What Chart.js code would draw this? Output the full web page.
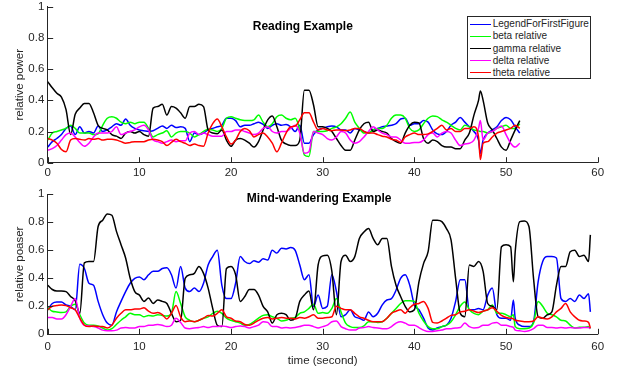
<!DOCTYPE html>
<html><head><meta charset="utf-8">
<script src="https://cdn.jsdelivr.net/npm/chart.js@4.4.1/dist/chart.umd.min.js"></script>
<style>
html,body{margin:0;padding:0;background:#fff;}
#wrap{position:relative;width:623px;height:375px;overflow:hidden;font-family:"Liberation Sans",Arial,Helvetica,sans-serif;}
#wrap canvas{position:absolute;left:0;}
.ttl{position:absolute;font-weight:bold;font-size:12px;color:#000;transform:translate(-50%,-50%);white-space:nowrap;}
#legend{position:absolute;left:466.5px;top:15.5px;width:122.5px;height:61.8px;border:1px solid #262626;background:#fff;font-size:10px;color:#262626;}
.row{position:absolute;left:0;height:12px;line-height:12px;white-space:nowrap;}
.sw{position:absolute;left:2.5px;top:5.5px;width:20.7px;height:0;border-top:1.5px solid;}
.lt{position:absolute;left:25.2px;top:0;}
#err{position:absolute;left:60px;top:100px;color:red;font-size:12px;}
</style></head>
<body>
<div id="wrap">
  <canvas id="c1" width="623" height="185" style="top:0;width:623px;height:185px"></canvas>
  <canvas id="c2" width="623" height="190" style="top:185px;width:623px;height:190px"></canvas>
  <div class="ttl" style="left:302.8px;top:25.7px">Reading Example</div>
  <div class="ttl" style="left:319.2px;top:198.3px">Mind-wandering Example</div>
  <div id="legend"></div>
  <div id="err"></div>
</div>
<script>
// ---------- DATA ----------
const seriesNames = ["LegendForFirstFigure","beta relative","gamma relative","delta relative","theta relative"];
const seriesColors = ["#0000ff","#00ff00","#000000","#ff00ff","#ff0000"];
const xTicks = [0,10,20,30,40,50,60];
const yTicks = [0,0.2,0.4,0.6,0.8,1];

// Reading Example (top) - time in seconds
const readTime = [0,0.5,1,1.5,2,2.5,3,3.5,4,4.5,5,5.5,6,6.5,7,7.5,8,8.5,9,9.5,10,10.5,11,11.5,12,12.5,13,13.5,14,14.5,15,15.5,16,16.5,17,17.5,18,18.5,19,19.5,20,20.5,21,21.5,22,22.5,23,23.5,24,24.5,25,25.5,26,26.5,27,27.5,28,28.5,29,29.5,30,30.5,31,31.5,32,32.5,33,33.5,34,34.5,35,35.5,36,36.5,37,37.5,38,38.5,39,39.5,40,40.5,41,41.5,42,42.5,43,43.5,44,44.5,45,45.5,46,46.5,47,47.2,47.5,48,48.5,49,49.5,50,50.5,51,51.5];
const readBlue = [0.1,0.135,0.155,0.18,0.22,0.235,0.18,0.23,0.19,0.2,
 0.19,0.235,0.2,0.21,0.23,0.25,0.24,0.28,0.24,0.22,
 0.21,0.205,0.2,0.205,0.22,0.235,0.22,0.24,0.225,0.23,
 0.22,0.135,0.19,0.18,0.19,0.21,0.22,0.23,0.24,0.285,
 0.285,0.27,0.23,0.24,0.24,0.25,0.26,0.245,0.22,0.24,
 0.25,0.24,0.245,0.23,0.2,0.24,0.125,0.125,0.18,0.21,
 0.22,0.23,0.235,0.23,0.21,0.21,0.19,0.22,0.21,0.2,
 0.19,0.21,0.22,0.23,0.235,0.24,0.25,0.28,0.285,0.24,
 0.25,0.25,0.27,0.26,0.21,0.185,0.18,0.2,0.24,0.26,
 0.29,0.26,0.23,0.2,0.145,0.06,
 0.145,0.19,0.21,0.23,0.27,0.29,0.275,0.23,0.19];
const readBeta = [0.145,0.19,0.2,0.21,0.22,0.24,0.22,0.19,0.19,0.19,
 0.18,0.185,0.24,0.285,0.295,0.285,0.26,0.25,0.26,0.25,
 0.26,0.26,0.22,0.165,0.18,0.19,0.205,0.165,0.19,0.2,
 0.2,0.19,0.165,0.18,0.2,0.215,0.21,0.2,0.22,0.285,
 0.295,0.285,0.275,0.27,0.27,0.275,0.305,0.26,0.23,0.25,
 0.295,0.305,0.285,0.275,0.285,0.21,0.05,0.04,0.2,0.2,
 0.2,0.205,0.22,0.23,0.25,0.285,0.325,0.26,0.22,0.19,
 0.19,0.21,0.22,0.22,0.24,0.285,0.305,0.305,0.285,0.22,
 0.2,0.21,0.25,0.285,0.3,0.295,0.275,0.26,0.24,0.22,
 0.21,0.24,0.23,0.21,0.205,0.2,
 0.2,0.19,0.2,0.22,0.23,0.24,0.22,0.22,0.25];
const readGamma = [0.52,0.48,0.445,0.42,0.34,0.18,0.31,0.35,0.38,0.38,
 0.32,0.24,0.22,0.21,0.18,0.17,0.155,0.19,0.2,0.19,
 0.2,0.18,0.17,0.35,0.36,0.375,0.305,0.36,0.35,0.32,
 0.285,0.36,0.36,0.375,0.36,0.21,0.19,0.185,0.21,0.145,
 0.105,0.145,0.155,0.145,0.125,0.1,0.135,0.21,0.275,0.3,
 0.23,0.145,0.12,0.11,0.11,0.145,0.465,0.465,0.37,0.23,
 0.23,0.22,0.2,0.155,0.11,0.08,0.08,0.145,0.21,0.25,
 0.26,0.2,0.21,0.2,0.19,0.155,0.135,0.125,0.19,0.24,
 0.26,0.255,0.155,0.125,0.145,0.135,0.11,0.1,0.1,0.09,
 0.09,0.145,0.19,0.305,0.4,0.46,
 0.4,0.255,0.21,0.155,0.1,0.08,0.145,0.21,0.27];
const readDelta = [0.08,0.09,0.11,0.145,0.18,0.19,0.165,0.13,0.105,0.125,
 0.165,0.19,0.19,0.19,0.2,0.23,0.18,0.19,0.2,0.21,
 0.23,0.24,0.21,0.145,0.135,0.125,0.135,0.145,0.135,0.14,
 0.14,0.19,0.2,0.18,0.19,0.18,0.17,0.17,0.17,0.2,
 0.2,0.21,0.21,0.2,0.19,0.18,0.19,0.22,0.23,0.2,
 0.19,0.2,0.2,0.22,0.24,0.19,0.06,0.07,0.2,0.19,
 0.18,0.155,0.145,0.165,0.2,0.19,0.145,0.125,0.135,0.165,
 0.2,0.23,0.21,0.19,0.18,0.165,0.165,0.145,0.125,0.125,
 0.13,0.13,0.145,0.18,0.19,0.165,0.19,0.2,0.19,0.145,
 0.11,0.12,0.125,0.145,0.22,0.27,
 0.145,0.19,0.2,0.22,0.235,0.18,0.125,0.1,0.125];
const readTheta = [0.155,0.145,0.125,0.085,0.07,0.145,0.155,0.15,0.145,0.155,
 0.15,0.155,0.145,0.15,0.15,0.145,0.135,0.125,0.13,0.135,
 0.135,0.135,0.145,0.15,0.145,0.135,0.11,0.13,0.15,0.135,
 0.125,0.11,0.12,0.11,0.105,0.19,0.25,0.28,0.23,0.165,
 0.12,0.145,0.2,0.22,0.205,0.165,0.18,0.19,0.165,0.125,
 0.07,0.125,0.19,0.23,0.235,0.275,0.32,0.32,0.26,0.21,
 0.22,0.21,0.205,0.21,0.21,0.205,0.21,0.22,0.22,0.2,
 0.19,0.19,0.18,0.17,0.165,0.15,0.145,0.13,0.165,0.18,
 0.19,0.18,0.18,0.185,0.2,0.22,0.24,0.21,0.22,0.2,
 0.2,0.22,0.22,0.23,0.165,0.02,
 0.125,0.135,0.165,0.19,0.2,0.21,0.22,0.24,0.22];

// Mind-wandering Example (bottom)
const mindTime = [0,0.5,1,1.5,2,2.5,3,3.5,4,4.5,5,5.5,6,6.5,7,7.5,8,8.5,9,9.5,10,10.5,11,11.5,12,12.5,13,13.5,14,14.5,15,15.5,16,16.5,17,17.5,18,18.5,19,19.5,20,20.5,21,21.5,22,22.5,23,23.5,24,24.5,25,25.5,26,26.5,27,27.5,28,28.5,29,29.5,30,30.5,31,31.5,32,32.5,33,33.5,34,34.5,35,35.5,36,36.5,37,37.5,38,38.5,39,39.5,40,40.5,41,41.5,42,42.5,43,43.5,44,44.5,45,45.5,46,46.5,47,47.5,48,48.5,49,49.5,50,50.5,50.8,51,51.5,52,52.5,53,53.5,54,54.5,55,55.5,56,56.5,57,57.5,58,58.5,59,59.2];
const mindBlue = [0.175,0.22,0.23,0.23,0.21,0.2,0.175,0.5,0.47,0.365,
 0.35,0.235,0.14,0.08,0.065,0.16,0.235,0.305,0.365,0.4,
 0.41,0.39,0.425,0.45,0.45,0.47,0.475,0.425,0.33,0.485,
 0.33,0.305,0.33,0.305,0.365,0.495,0.555,0.6,0.35,0.255,
 0.255,0.365,0.555,0.52,0.505,0.525,0.515,0.54,0.53,0.6,
 0.58,0.615,0.61,0.62,0.6,0.495,0.39,0.425,0.2,0.28,
 0.185,0.2,0.425,0.305,0.125,0.14,0.175,0.125,0.115,0.1,
 0.16,0.125,0.15,0.21,0.245,0.255,0.315,0.4,0.425,0.35,
 0.21,0.175,0.115,0.045,0.03,0.045,0.055,0.065,0.115,0.235,
 0.39,0.39,0.175,0.175,0.185,0.175,0.28,0.33,0.14,0.115,
 0.115,0.1,0.245,0.115,0.065,0.055,0.055,0.09,0.375,0.52,
 0.555,0.555,0.545,0.255,0.235,0.255,0.235,0.28,0.255,0.29,
 0.16];
const mindBeta = [0.19,0.165,0.16,0.155,0.16,0.2,0.215,0.14,0.08,0.065,
 0.065,0.06,0.045,0.03,0.04,0.07,0.1,0.125,0.15,0.14,
 0.14,0.125,0.135,0.13,0.14,0.135,0.13,0.15,0.305,0.22,
 0.125,0.1,0.09,0.1,0.115,0.125,0.15,0.165,0.15,0.115,
 0.1,0.09,0.08,0.065,0.07,0.09,0.115,0.135,0.14,0.125,
 0.115,0.095,0.1,0.115,0.12,0.15,0.16,0.185,0.215,0.15,
 0.155,0.15,0.185,0.255,0.16,0.08,0.055,0.048,0.048,0.06,
 0.09,0.09,0.085,0.09,0.115,0.15,0.185,0.22,0.24,0.24,
 0.235,0.15,0.095,0.055,0.04,0.04,0.055,0.065,0.09,0.14,
 0.2,0.23,0.175,0.15,0.14,0.165,0.175,0.21,0.15,0.15,
 0.14,0.125,0.14,0.055,0.04,0.04,0.045,0.08,0.235,0.2,
 0.15,0.14,0.125,0.1,0.095,0.065,0.045,0.05,0.05,0.055,
 0.04];
const mindGamma = [0.35,0.32,0.31,0.31,0.305,0.27,0.24,0.15,0.51,0.52,
 0.52,0.77,0.815,0.86,0.85,0.735,0.64,0.545,0.4,0.305,
 0.28,0.235,0.26,0.22,0.245,0.235,0.22,0.15,0.09,0.1,
 0.4,0.425,0.435,0.485,0.435,0.33,0.185,0.065,0.055,0.47,
 0.485,0.425,0.235,0.27,0.32,0.32,0.28,0.2,0.16,0.08,
 0.14,0.15,0.14,0.1,0.115,0.235,0.28,0.31,0.175,0.495,
 0.56,0.565,0.45,0.14,0.52,0.565,0.52,0.555,0.685,0.73,
 0.755,0.685,0.64,0.685,0.685,0.485,0.35,0.27,0.2,0.16,
 0.175,0.375,0.505,0.59,0.815,0.815,0.805,0.755,0.675,0.4,
 0.15,0.125,0.495,0.485,0.52,0.45,0.22,0.2,0.175,0.625,
 0.64,0.625,0.375,0.59,0.805,0.81,0.77,0.4,0.125,0.115,
 0.14,0.16,0.35,0.485,0.485,0.59,0.6,0.555,0.565,0.52,
 0.71];
const mindDelta = [0.12,0.12,0.11,0.11,0.14,0.2,0.255,0.115,0.065,0.06,
 0.055,0.045,0.03,0.025,0.025,0.03,0.045,0.048,0.045,0.045,
 0.055,0.055,0.065,0.065,0.07,0.065,0.055,0.065,0.115,0.085,
 0.045,0.04,0.045,0.048,0.055,0.048,0.055,0.055,0.06,0.055,
 0.048,0.055,0.06,0.055,0.045,0.055,0.065,0.09,0.085,0.055,
 0.055,0.045,0.048,0.045,0.048,0.055,0.065,0.065,0.055,0.045,
 0.055,0.065,0.09,0.095,0.055,0.04,0.03,0.03,0.045,0.048,
 0.055,0.048,0.045,0.04,0.04,0.055,0.08,0.09,0.08,0.065,
 0.065,0.048,0.03,0.02,0.02,0.025,0.03,0.04,0.04,0.045,
 0.048,0.08,0.055,0.045,0.048,0.065,0.065,0.08,0.085,0.065,
 0.065,0.055,0.05,0.03,0.025,0.02,0.025,0.04,0.065,0.065,
 0.048,0.048,0.045,0.048,0.045,0.048,0.045,0.045,0.048,0.048,
 0.04];
const mindTheta = [0.175,0.2,0.205,0.21,0.205,0.19,0.175,0.115,0.065,0.055,
 0.06,0.055,0.055,0.045,0.065,0.115,0.15,0.175,0.175,0.18,
 0.18,0.19,0.165,0.15,0.155,0.14,0.11,0.15,0.205,0.125,
 0.09,0.095,0.09,0.1,0.115,0.135,0.13,0.15,0.175,0.125,
 0.115,0.095,0.09,0.07,0.065,0.08,0.1,0.115,0.12,0.11,
 0.115,0.12,0.115,0.115,0.11,0.12,0.115,0.125,0.14,0.115,
 0.115,0.12,0.125,0.2,0.185,0.175,0.175,0.15,0.125,0.115,
 0.1,0.09,0.09,0.09,0.115,0.15,0.165,0.175,0.15,0.19,
 0.215,0.22,0.235,0.185,0.085,0.08,0.095,0.115,0.135,0.14,
 0.16,0.165,0.175,0.165,0.155,0.165,0.175,0.19,0.165,0.135,
 0.12,0.115,0.11,0.1,0.095,0.09,0.09,0.095,0.125,0.115,
 0.11,0.125,0.16,0.185,0.22,0.16,0.125,0.1,0.095,0.085,
 0.045];

// ---------- RENDER ----------
const FONT = '"Liberation Sans", Arial, Helvetica, sans-serif';
const AX = '#262626';
const errs = [];

const inwardTicks = {
  id: 'inwardTicks',
  afterDraw(chart) {
    const {ctx, chartArea, scales} = chart;
    const x = scales.x, y = scales.y;
    ctx.save();
    ctx.strokeStyle = AX; ctx.lineWidth = 1;
    ctx.beginPath();
    x.ticks.forEach(t => { const px = Math.round(x.getPixelForValue(t.value)) + 0.5; ctx.moveTo(px, chartArea.bottom); ctx.lineTo(px, chartArea.bottom - 5.5); });
    y.ticks.forEach(t => { const py = Math.round(y.getPixelForValue(t.value)) + 0.5; ctx.moveTo(chartArea.left, py); ctx.lineTo(chartArea.left + 5.5, py); });
    ctx.stroke();
    ctx.restore();
  }
};

function makeChart(id, name, times, values, cfg) {
  // values in order: blue, beta, gamma, delta, theta ; draw theta on top
  const datasets = [];
  for (let k = values.length - 1; k >= 0; k--) {
    if (values[k].length !== times.length) errs.push(name + ' series ' + k + ': ' + values[k].length + ' vs ' + times.length);
    datasets.push({
      label: seriesNames[k],
      data: times.map((t, i) => ({x: t, y: values[k][i]})),
      borderColor: seriesColors[k],
      borderWidth: 1.5,
      pointRadius: 0,
      fill: false,
      cubicInterpolationMode: 'monotone'
    });
  }
  return new Chart(document.getElementById(id), {
    type: 'line',
    data: {datasets},
    plugins: [inwardTicks],
    options: {
      responsive: false,
      animation: false,
      devicePixelRatio: 1,
      layout: {padding: {top: cfg.top, right: 25.3, bottom: 0, left: 0}},
      plugins: {legend: {display: false}, tooltip: {enabled: false}, title: {display: false}},
      scales: {
        x: {
          type: 'linear', min: 0, max: 60,
          afterBuildTicks: s => { s.ticks = xTicks.map(v => ({value: v})); },
          afterFit: s => { s.height = cfg.xHeight; s.paddingLeft = 0; s.paddingRight = 0; },
          grid: {display: false, drawTicks: false},
          border: {display: true, color: AX, width: 1},
          ticks: {color: AX, font: {family: FONT, size: 11.5}, padding: cfg.xPad, maxRotation: 0, callback: v => String(v)},
          title: cfg.xTitle ? {display: true, text: cfg.xTitle, color: AX, font: {family: FONT, size: 11.5}, padding: {top: 0, bottom: cfg.xTitlePad}} : {display: false}
        },
        y: {
          type: 'linear', min: 0, max: 1,
          afterBuildTicks: s => { s.ticks = yTicks.map(v => ({value: v})); },
          afterFit: s => { s.width = 47.7; s.paddingTop = 0; s.paddingBottom = 0; },
          grid: {display: false, drawTicks: false},
          border: {display: true, color: AX, width: 1},
          ticks: {color: AX, font: {family: FONT, size: 11.5}, padding: 3.4, callback: v => String(Math.round(v * 10) / 10)},
          title: {display: true, text: cfg.yTitle, color: AX, font: {family: FONT, size: 11.5}, padding: {top: 13, bottom: 0}}
        }
      }
    }
  });
}

makeChart('c1', 'reading', readTime, [readBlue, readBeta, readGamma, readDelta, readTheta],
  {top: 6.7, xHeight: 22.3, xPad: 3.7, yTitle: 'relative power'});
makeChart('c2', 'mind', mindTime, [mindBlue, mindBeta, mindGamma, mindDelta, mindTheta],
  {top: 9.3, xHeight: 40.7, xPad: 5.5, yTitle: 'relative poaser', xTitle: 'time (second)', xTitlePad: 7});

// legend
const lg = document.getElementById('legend');
const rowTops = [1.5, 13.8, 26.2, 38.2, 50.2];
seriesNames.forEach((n, i) => {
  const r = document.createElement('div');
  r.className = 'row';
  r.style.top = rowTops[i] + 'px';
  r.innerHTML = '<span class="sw" style="border-color:' + seriesColors[i] + '"></span><span class="lt"></span>';
  r.querySelector('.lt').textContent = n;
  lg.appendChild(r);
});
if (errs.length) document.getElementById('err').textContent = errs.join(' | ');
</script>
</body></html>
